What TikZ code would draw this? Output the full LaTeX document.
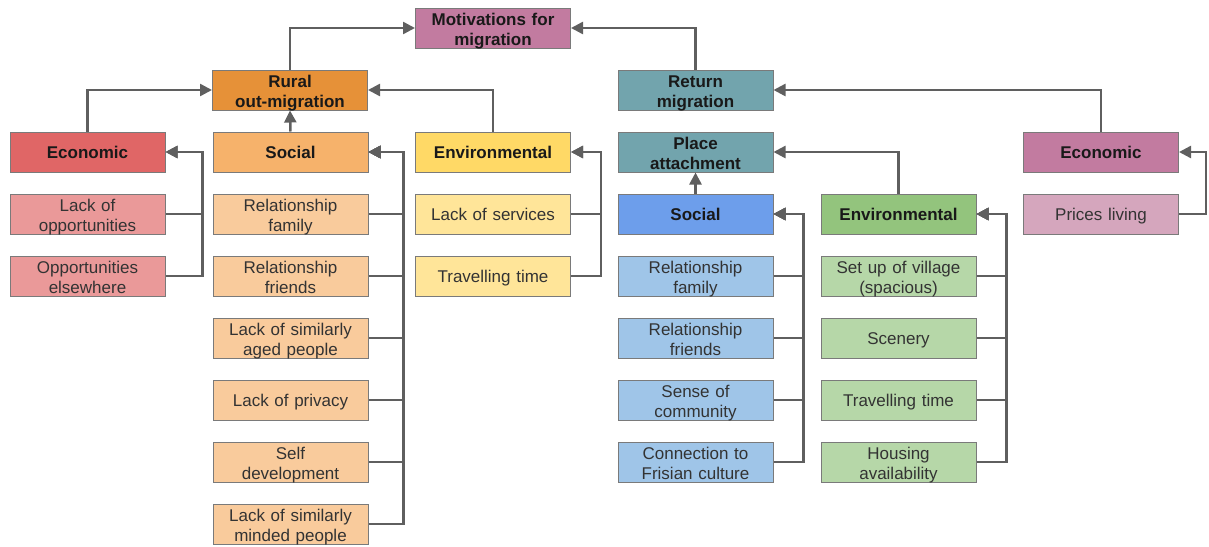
\documentclass[tikz,border=0pt]{standalone}
\usepackage{fontspec}
\setmainfont{Liberation Sans}
\usetikzlibrary{arrows.meta}
\definecolor{lineC}{HTML}{5F5F5F}
\definecolor{borderC}{HTML}{7A7A7A}
\definecolor{txtC}{HTML}{333333}
\definecolor{cMot}{HTML}{C27BA0}
\definecolor{cRural}{HTML}{E69138}
\definecolor{cTeal}{HTML}{72A4AD}
\definecolor{cRed}{HTML}{E06666}
\definecolor{cRedL}{HTML}{EA9999}
\definecolor{cOr}{HTML}{F6B26B}
\definecolor{cOrL}{HTML}{F9CB9C}
\definecolor{cYe}{HTML}{FFD966}
\definecolor{cYeL}{HTML}{FFE599}
\definecolor{cBl}{HTML}{6D9EEB}
\definecolor{cBlL}{HTML}{9FC5E8}
\definecolor{cGr}{HTML}{93C47D}
\definecolor{cGrL}{HTML}{B6D7A8}
\definecolor{cPk}{HTML}{C27BA0}
\definecolor{cPkL}{HTML}{D5A6BD}
\tikzset{
  box/.style={draw=borderC, line width=1pt, minimum width=155pt, minimum height=40pt,
    inner sep=0pt, text width=153pt, align=center, text=txtC,
    text height=15pt, text depth=3pt, font=\fontsize{17}{20}\selectfont},
  two/.style={text height=17pt, text depth=23pt},
  hd/.style={box, text=black!90, font=\fontsize{17}{20}\selectfont\bfseries},
  conn/.style={draw=lineC, line width=2.5pt, -{Triangle[length=12pt,width=12pt]}}
}
\begin{document}
\begin{tikzpicture}[x=1pt,y=-1pt]
\useasboundingbox (0,0) rectangle (1209,546);
% top level
\node[hd, two, fill=cMot] (mot) at (493,28) {Motivations for\\migration};
\node[hd, two, fill=cRural] (rural) at (290,90) {Rural\\out-migration};
\node[hd, two, fill=cTeal] (ret) at (695.5,90) {Return\\migration};
% categories
\node[hd, fill=cRed] (ecoA) at (87.5,152) {Economic};
\node[hd, fill=cOr] (socA) at (290.5,152) {Social};
\node[hd, fill=cYe] (envA) at (493,152) {Environmental};
\node[hd, two, fill=cTeal] (place) at (695.5,152) {Place\\attachment};
\node[hd, fill=cPk] (ecoB) at (1101,152) {Economic};
\node[hd, fill=cBl] (socB) at (695.5,214) {Social};
\node[hd, fill=cGr] (envB) at (898.5,214) {Environmental};
% red items
\node[box, two, fill=cRedL] (r1) at (87.5,214) {Lack of\\opportunities};
\node[box, two, fill=cRedL] (r2) at (87.5,276) {Opportunities\\elsewhere};
% orange items
\node[box, two, fill=cOrL] (o1) at (290.5,214) {Relationship\\family};
\node[box, two, fill=cOrL] (o2) at (290.5,276) {Relationship\\friends};
\node[box, two, fill=cOrL] (o3) at (290.5,338) {Lack of similarly\\aged people};
\node[box, fill=cOrL] (o4) at (290.5,400) {Lack of privacy};
\node[box, two, fill=cOrL] (o5) at (290.5,462) {Self\\development};
\node[box, two, fill=cOrL] (o6) at (290.5,524) {Lack of similarly\\minded people};
% yellow items
\node[box, fill=cYeL] (y1) at (493,214) {Lack of services};
\node[box, fill=cYeL] (y2) at (493,276) {Travelling time};
% blue items
\node[box, two, fill=cBlL] (b1) at (695.5,276) {Relationship\\family};
\node[box, two, fill=cBlL] (b2) at (695.5,338) {Relationship\\friends};
\node[box, two, fill=cBlL] (b3) at (695.5,400) {Sense of\\community};
\node[box, two, fill=cBlL] (b4) at (695.5,462) {Connection to\\Frisian culture};
% green items
\node[box, two, fill=cGrL] (g1) at (898.5,276) {Set up of village\\(spacious)};
\node[box, fill=cGrL] (g2) at (898.5,338) {Scenery};
\node[box, fill=cGrL] (g3) at (898.5,400) {Travelling time};
\node[box, two, fill=cGrL] (g4) at (898.5,462) {Housing\\availability};
% pink item
\node[box, fill=cPkL] (p1) at (1101,214) {Prices living};

% upper connectors
\draw[conn] (rural.north) |- (mot.west);
\draw[conn] (ret.north) |- (mot.east);
\draw[conn] (ecoA.north) |- (rural.west);
\draw[conn] (socA.north) -- (rural.south);
\draw[conn] (envA.north) |- (rural.east);
\draw[conn] (ecoB.north) |- (ret.east);
\draw[conn] (socB.north) -- (place.south);
\draw[conn] (envB.north) |- (place.east);

% item connectors
\foreach \n in {r1,r2} \draw[conn] (\n.east) -- ++(37,0) |- (ecoA.east);
\foreach \n in {o1,o2,o3,o4,o5,o6} \draw[conn] (\n.east) -- ++(35,0) |- (socA.east);
\foreach \n in {y1,y2} \draw[conn] (\n.east) -- ++(30,0) |- (envA.east);
\foreach \n in {b1,b2,b3,b4} \draw[conn] (\n.east) -- ++(30,0) |- (socB.east);
\foreach \n in {g1,g2,g3,g4} \draw[conn] (\n.east) -- ++(30,0) |- (envB.east);
\draw[conn] (p1.east) -- ++(27,0) |- (ecoB.east);
\end{tikzpicture}
\end{document}
